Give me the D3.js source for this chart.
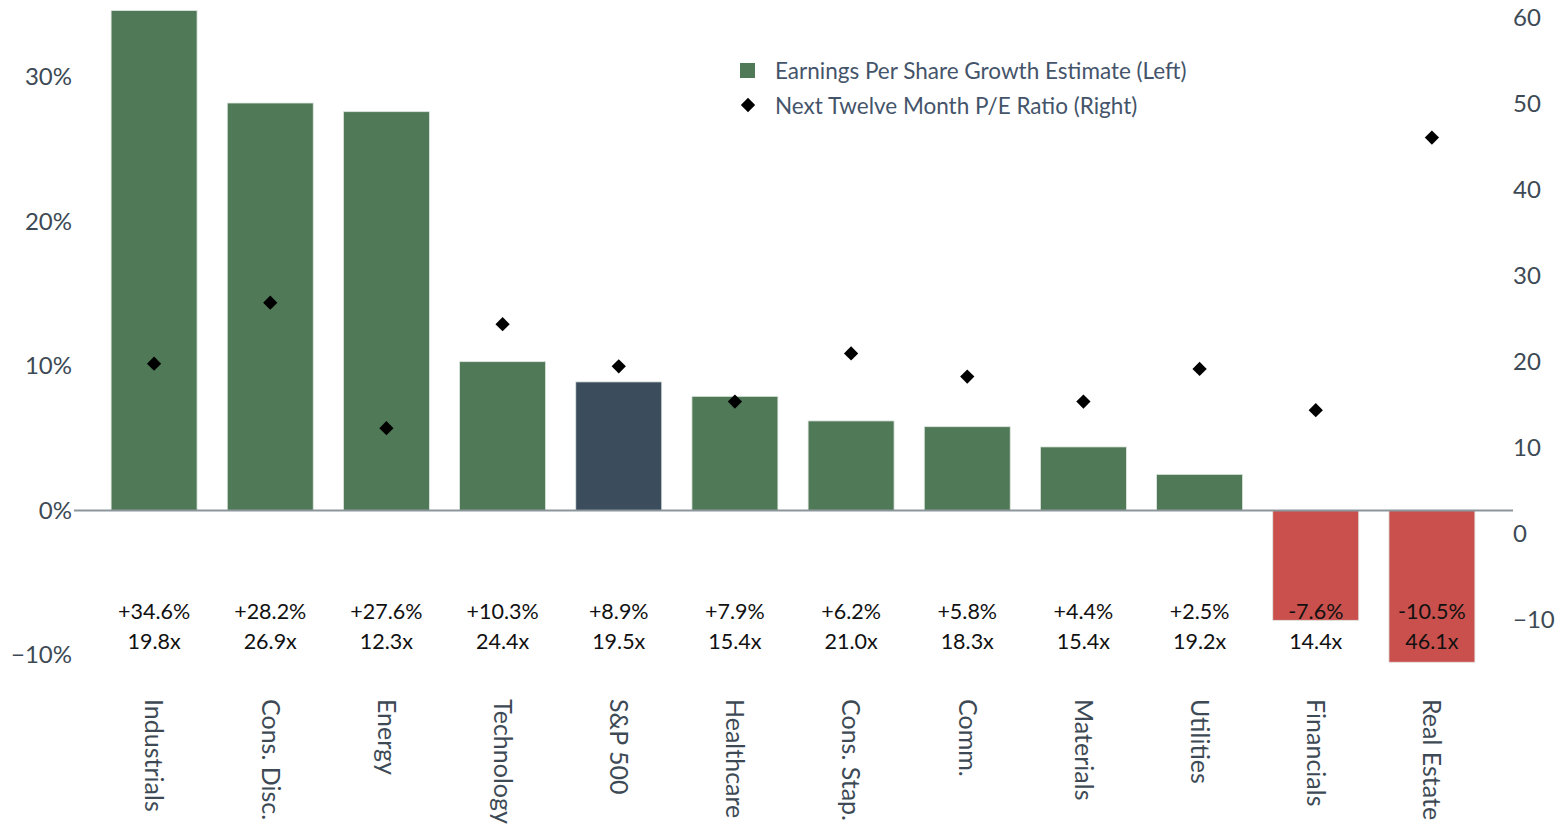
<!DOCTYPE html>
<html><head><meta charset="utf-8">
<script src="https://cdn.jsdelivr.net/npm/d3@7"></script>
<style>body{margin:0;background:#fff;}svg{display:block;font-family:Lato,"Noto Sans",sans-serif;}</style>
</head><body><svg id="c" width="1562" height="826"></svg>
<script>
const categories = ["Industrials","Cons. Disc.","Energy","Technology","S&P 500","Healthcare","Cons. Stap.","Comm.","Materials","Utilities","Financials","Real Estate"];
const epsGrowth = [34.6,28.2,27.6,10.3,8.9,7.9,6.2,5.8,4.4,2.5,-7.6,-10.5];
const peRatio = [19.8,26.9,12.3,24.4,19.5,15.4,21.0,18.3,15.4,19.2,14.4,46.1];
const leftTicks = [-10,0,10,20,30];
const rightTicks = [-10,0,10,20,30,40,50,60];
const legendLabels = ["Earnings Per Share Growth Estimate (Left)","Next Twelve Month P/E Ratio (Right)"];

const green="#507a57", navy="#3b4c5c", red="#c9504c";
const svg=d3.select("#c");
const x=d3.scaleBand().domain(categories).range([96,1490]).paddingInner(0.26).paddingOuter(0.13);
const yL=d3.scaleLinear().domain([-10,30]).range([655,77]);
const yR=d3.scaleLinear().domain([-10,60]).range([620,18]);

// bars
svg.append("g").selectAll("rect").data(categories).join("rect")
  .attr("x",d=>x(d)).attr("width",x.bandwidth())
  .attr("y",(d,i)=>yL(Math.max(0,epsGrowth[i])))
  .attr("height",(d,i)=>Math.abs(yL(epsGrowth[i])-yL(0)))
  .attr("fill",(d,i)=>d==="S&P 500"?navy:(epsGrowth[i]<0?red:green))
  .attr("stroke",(d,i)=>"#dfe6e0").attr("stroke-width",0.8);

// zero line
svg.append("line").attr("x1",74).attr("x2",1513).attr("y1",yL(0)).attr("y2",yL(0))
  .attr("stroke","#8c959c").attr("stroke-width",2);

// left axis
const gl=svg.append("g").attr("transform","translate(72,0)")
  .call(d3.axisLeft(yL).tickValues(leftTicks).tickSize(0).tickPadding(0).tickFormat(d=>(d<0?"\u2212"+Math.abs(d):d)+"%"));
gl.select(".domain").remove();
gl.selectAll("text").attr("font-size",24).attr("fill","#3d4a55").attr("font-family","Lato,'Noto Sans',sans-serif");

// right axis
const gr=svg.append("g").attr("transform","translate(1513,0)")
  .call(d3.axisRight(yR).tickValues(rightTicks).tickSize(0).tickPadding(0).tickFormat(d=>d<0?"\u2212"+Math.abs(d):d));
gr.select(".domain").remove();
gr.selectAll("text").attr("font-size",24).attr("fill","#3d4a55").attr("font-family","Lato,'Noto Sans',sans-serif");

// diamonds
const diamond=d3.symbol().type(d3.symbolDiamond2).size(130);
svg.append("g").selectAll("path").data(categories).join("path")
  .attr("d",diamond).attr("transform",(d,i)=>`translate(${x(d)+x.bandwidth()/2},${yR(peRatio[i])})`)
  .attr("fill","#000");

// value labels
const vl=svg.append("g").attr("font-size",21.5).attr("fill","#111").attr("text-anchor","middle");
vl.selectAll("text.g").data(categories).join("text").attr("class","g")
  .attr("x",d=>x(d)+x.bandwidth()/2).attr("y",619)
  .text((d,i)=>(epsGrowth[i]>0?"+":"")+epsGrowth[i].toFixed(1)+"%");
vl.selectAll("text.p").data(categories).join("text").attr("class","p")
  .attr("x",d=>x(d)+x.bandwidth()/2).attr("y",649)
  .text((d,i)=>peRatio[i].toFixed(1)+"x");

// category labels
svg.append("g").selectAll("text").data(categories).join("text")
  .attr("transform",d=>`translate(${x(d)+x.bandwidth()/2},699) rotate(90)`)
  .attr("dy","0.35em").attr("font-size",25).attr("fill","#3d4a55").text(d=>d);

// legend
const lg=svg.append("g");
lg.append("rect").attr("x",740).attr("y",63).attr("width",15).attr("height",15).attr("fill",green);
lg.append("path").attr("d",diamond).attr("transform","translate(748,105)").attr("fill","#000");
lg.selectAll("text").data(legendLabels).join("text")
  .attr("x",775).attr("y",(d,i)=>71+i*35).attr("dy","0.35em")
  .attr("font-size",22.5).attr("fill","#44546a").text(d=>d);
</script></body></html>
